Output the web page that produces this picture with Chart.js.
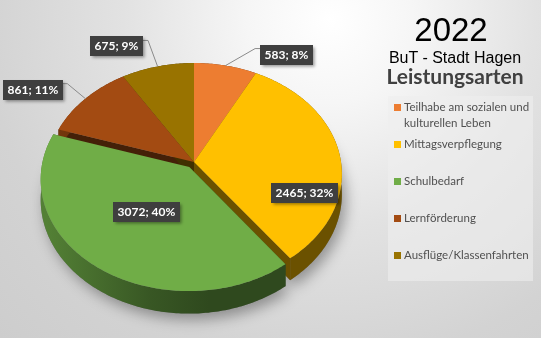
<!DOCTYPE html>
<html lang="de">
<head>
<meta charset="utf-8">
<title>BuT Hagen 2022</title>
<script src="https://cdn.jsdelivr.net/npm/chart.js@4.4.1/dist/chart.umd.min.js"></script>
<style>
  html, body { margin: 0; padding: 0; }
  body { width: 541px; height: 338px; overflow: hidden; }
  #wrap {
    position: relative; width: 541px; height: 338px;
    background: radial-gradient(circle farthest-corner at 330px 20px, #ffffff 0%, #f6f6f6 18%, #e2e2e2 45%, #d3d3d3 75%, #cdcdcd 100%);
  }
  #pie { position: absolute; left: 0; top: 0; }
  .head { position: absolute; left: 370px; width: 170px; text-align: center; line-height: 1; white-space: nowrap; }
  #year { top: 11px; font: 33px "Liberation Sans", Arial, sans-serif; color: #000; left: 366px; }
  #sub { top: 49px; font: 16px "Liberation Sans", Arial, sans-serif; color: #000; }
  #kind { top: 63px; font: bold 21px Lato, sans-serif; color: #404040; }
  #legend {
    position: absolute; left: 388px; top: 96px; width: 145px; height: 185px;
    background: rgba(238, 238, 238, 0.6);
  }
  .item { position: absolute; left: 16px; width: 126px; font: 11.5px Lato, sans-serif; line-height: 16px; color: #505050; }
  .item i { position: absolute; left: -10px; top: 5px; width: 7px; height: 7px; }
</style>
</head>
<body>
<div id="wrap">
  <canvas id="pie" width="541" height="338"></canvas>
  <div class="head" id="year">2022</div>
  <div class="head" id="sub">BuT - Stadt Hagen</div>
  <div class="head" id="kind">Leistungsarten</div>
  <div id="legend"></div>
</div>
<script>
const categories = ['Teilhabe am sozialen und kulturellen Leben', 'Mittagsverpflegung', 'Schulbedarf', 'Lernförderung', 'Ausflüge/Klassenfahrten'];
const amounts = [583, 2465, 3072, 861, 675];
const sliceColors = ['#ED7D31', '#FFC000', '#70AD47', '#A34B12', '#997300'];
const pulledOut = [0, 0, 8, 0, 0];
// value labels: inside ones sit at [turn in degrees, share of radius],
// outside ones get a box shift [dx, dy] from the rim and a leader line
const labelInside = [false, true, true, false, false];
const labelSpot = [[61, -11], [25, 0.78], [0, 0.475], [-53, -9], [-41, -20]];

const TILT = 0.746, PERSP = 0.108, DEPTH = 20;

function shade(hex, f) {
  const n = parseInt(hex.slice(1), 16);
  const r = Math.round(((n >> 16) & 255) * f), g = Math.round(((n >> 8) & 255) * f), b = Math.round((n & 255) * f);
  return 'rgb(' + r + ',' + g + ',' + b + ')';
}

// legend
const legend = document.getElementById('legend');
categories.forEach((c, i) => {
  const d = document.createElement('div');
  d.className = 'item';
  d.style.top = (3 + 37 * i) + 'px';
  d.innerHTML = '<i style="background:' + sliceColors[i] + '"></i>' + c;
  legend.appendChild(d);
});

// tilted view of the pie, built from the arc elements Chart.js laid out
function view(chart) {
  const arcs = chart.getDatasetMeta(0).data;
  const cx = arcs[0].x, cy = arcs[0].y, R = arcs[0].outerRadius;
  const P = (u, v, z) => {
    const s = 1 - PERSP * v;
    return [cx + R * u / s, cy + (R * TILT * v + z) / s];
  };
  const pieces = arcs.map((a, i) => {
    const mid = (a.startAngle + a.endAngle) / 2;
    const off = (a.options.offset || 0) / R;
    return { a, i, mid, ou: Math.cos(mid) * off, ov: Math.sin(mid) * off };
  });
  return { P, pieces, cx, R };
}

const pie3d = {
  id: 'pie3d',
  beforeDatasetsDraw(chart) {
    const ctx = chart.ctx;
    const { P, pieces, cx, R } = view(chart);
    const rim = (p, z) => {
      const pts = [];
      const a0 = p.a.startAngle, a1 = p.a.endAngle;
      const n = Math.max(4, Math.ceil((a1 - a0) / 0.015));
      for (let k = 0; k <= n; k++) {
        const t = a0 + (a1 - a0) * k / n;
        pts.push(P(p.ou + Math.cos(t), p.ov + Math.sin(t), z));
      }
      return pts;
    };
    const face = (p, z) => {
      ctx.moveTo(...P(p.ou, p.ov, z));
      rim(p, z).forEach(q => ctx.lineTo(...q));
      ctx.closePath();
    };

    ctx.save();
    // soft shadow under the pie
    ctx.shadowColor = 'rgba(0,0,0,0.35)';
    ctx.shadowBlur = 14;
    ctx.shadowOffsetX = 4;
    ctx.shadowOffsetY = 6;
    ctx.fillStyle = '#777';
    ctx.beginPath();
    pieces.forEach(p => face(p, DEPTH));
    ctx.fill();
    ctx.restore();

    // cut sides, only seen where a slice is pulled out
    pieces.forEach(p => {
      ctx.fillStyle = shade(sliceColors[p.i], 0.42);
      [p.a.startAngle, p.a.endAngle].forEach(t => {
        ctx.beginPath();
        ctx.moveTo(...P(p.ou, p.ov, 0));
        ctx.lineTo(...P(p.ou + Math.cos(t), p.ov + Math.sin(t), 0));
        ctx.lineTo(...P(p.ou + Math.cos(t), p.ov + Math.sin(t), DEPTH));
        ctx.lineTo(...P(p.ou, p.ov, DEPTH));
        ctx.closePath();
        ctx.fill();
      });
    });

    // outer walls, back to front
    pieces.slice().sort((a, b) => (Math.sin(a.mid) + a.ov) - (Math.sin(b.mid) + b.ov)).forEach(p => {
      const g = ctx.createLinearGradient(cx - R, 0, cx + R, 0);
      const c = sliceColors[p.i];
      g.addColorStop(0, shade(c, 0.74));
      g.addColorStop(0.35, shade(c, 0.5));
      g.addColorStop(0.55, shade(c, 0.42));
      g.addColorStop(1, shade(c, 0.42));
      const top = rim(p, 0), bottom = rim(p, DEPTH).reverse();
      ctx.beginPath();
      top.concat(bottom).forEach((q, k) => k ? ctx.lineTo(...q) : ctx.moveTo(...q));
      ctx.closePath();
      ctx.fillStyle = g;
      ctx.fill();
    });

    // top faces
    pieces.forEach(p => {
      ctx.beginPath();
      face(p, 0);
      ctx.fillStyle = sliceColors[p.i];
      ctx.fill();
    });
    return false;
  },
  afterDraw(chart) {
    const ctx = chart.ctx;
    const { P, pieces } = view(chart);
    const total = amounts.reduce((s, v) => s + v, 0);
    ctx.save();
    ctx.font = 'bold 12px Lato, sans-serif';
    pieces.forEach(p => {
      const i = p.i;
      const text = amounts[i] + '; ' + Math.round(amounts[i] / total * 100) + '%';
      const w = ctx.measureText(text).width + 9, h = 20;
      let bx, by;
      if (labelInside[i]) {
        const t = p.mid + labelSpot[i][0] * Math.PI / 180, r = labelSpot[i][1];
        [bx, by] = P(p.ou + r * Math.cos(t), p.ov + r * Math.sin(t), 0);
      } else {
        const [ax, ay] = P(p.ou + Math.cos(p.mid), p.ov + Math.sin(p.mid), 0);
        bx = ax + labelSpot[i][0];
        by = ay + labelSpot[i][1];
        const right = ax > bx;
        const ex = right ? bx + w / 2 : bx - w / 2;
        const ey = by - h / 2 + 4;
        ctx.strokeStyle = '#8a8a8a';
        ctx.lineWidth = 1;
        ctx.beginPath();
        ctx.moveTo(ax, ay);
        ctx.lineTo(ex + (right ? 5 : -5), ey);
        ctx.lineTo(ex, ey);
        ctx.stroke();
      }
      const x0 = Math.round(bx - w / 2), y0 = Math.round(by - h / 2);
      ctx.save();
      ctx.shadowColor = 'rgba(0,0,0,0.4)';
      ctx.shadowBlur = 3;
      ctx.shadowOffsetX = 1.5;
      ctx.shadowOffsetY = 1.5;
      ctx.fillStyle = '#3f3f3f';
      ctx.fillRect(x0, y0, Math.round(w), h);
      ctx.restore();
      ctx.fillStyle = '#ffffff';
      ctx.textAlign = 'center';
      ctx.textBaseline = 'middle';
      ctx.fillText(text, x0 + Math.round(w) / 2, y0 + h / 2 + 0.5);
    });
    ctx.restore();
  }
};

new Chart(document.getElementById('pie'), {
  type: 'pie',
  data: {
    labels: categories,
    datasets: [{
      data: amounts,
      backgroundColor: sliceColors,
      offset: pulledOut,
      borderWidth: 0
    }]
  },
  options: {
    responsive: false,
    animation: false,
    radius: 147,
    layout: { padding: { left: 20, right: 173, top: 0, bottom: 14 } },
    plugins: { legend: { display: false }, tooltip: { enabled: false } },
    events: []
  },
  plugins: [pie3d]
});
</script>
</body>
</html>
